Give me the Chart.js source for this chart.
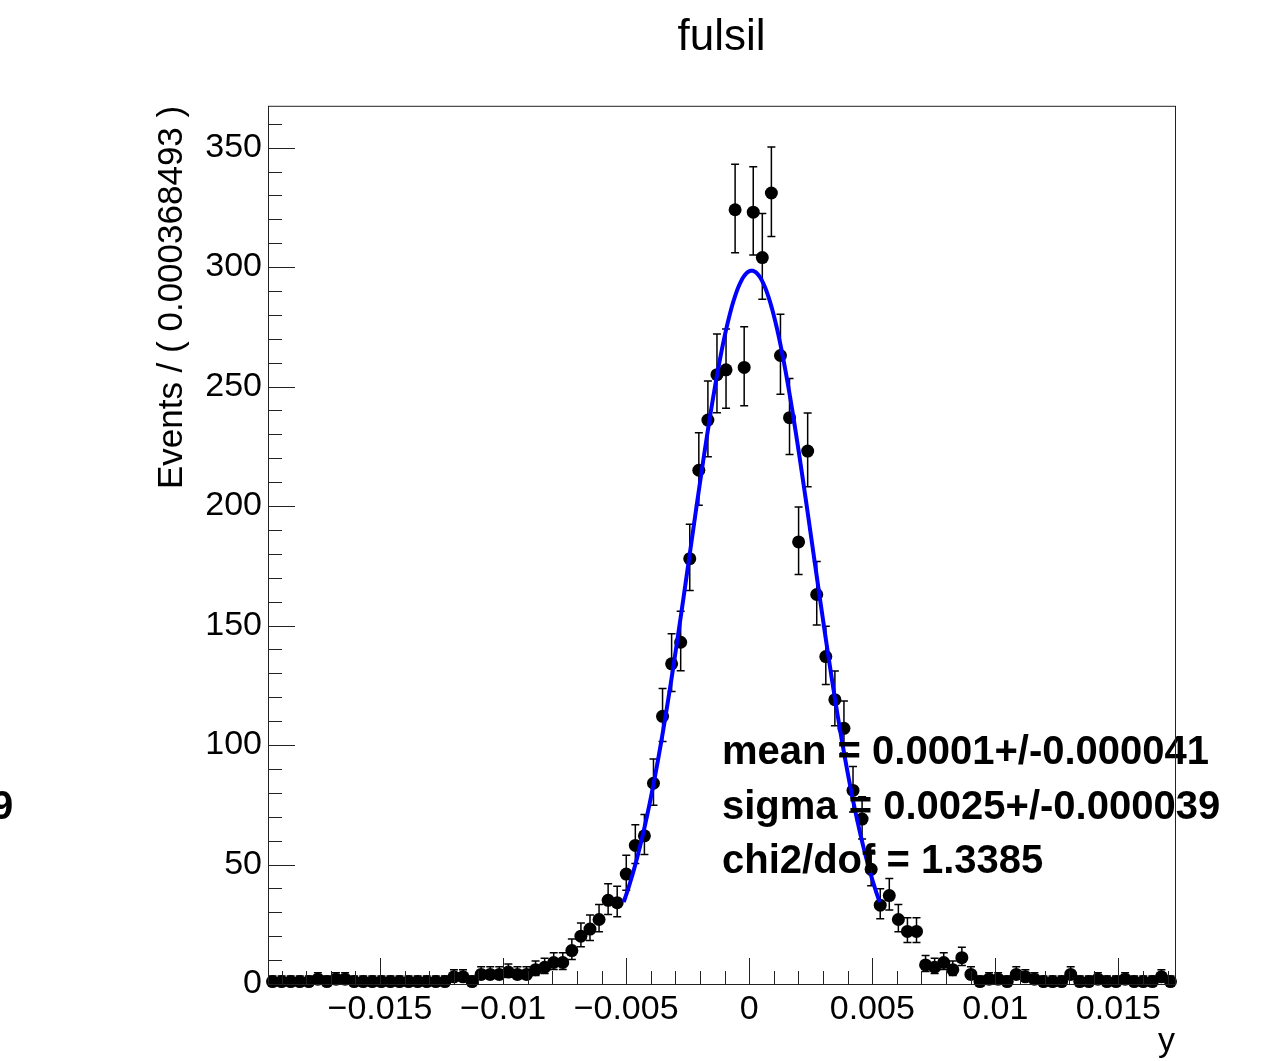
<!DOCTYPE html>
<html>
<head>
<meta charset="utf-8">
<title>fulsil</title>
<script src="https://cdn.jsdelivr.net/npm/chart.js@4.4.1/dist/chart.umd.min.js"></script>
<style>
  html, body { margin: 0; padding: 0; background: #fff; }
  #wrap { width: 1272px; height: 1061px; }
</style>
</head>
<body>
<div id="wrap"><canvas id="fit" width="1272" height="1061"></canvas></div>
<script>
// binning of the frame
const xMin = -0.01955;
const binWidth = 0.000368493;
const nBins = 100;
const xMax = xMin + nBins * binWidth;
const yMax = 367.5;

// events per bin, left to right
const counts = [
    1, 1, 1, 1, 1, 2, 1, 2, 2, 1,
    1, 1, 1, 1, 1, 1, 1, 1, 1, 1,
    3, 3, 1, 4, 4, 4, 5, 4, 4, 6,
    7, 9, 9, 14, 20, 23, 27, 35, 34, 46,
    58, 62, 84, 112, 134, 143, 178, 215, 236, 255,
    257, 324, 258, 323, 304, 331, 263, 237, 185, 223,
    163, 137, 119, 107, 81, 69, 48, 33, 37, 27,
    22, 22, 8, 7, 9, 6, 11, 4, 1, 2,
    2, 1, 4, 3, 2, 1, 1, 1, 4, 1,
    1, 2, 1, 1, 2, 1, 1, 1, 3, 1
];

// gaussian fit result
const fitMean = 0.0001;
const fitSigma = 0.0025;
const fitPeak = 298.5;
const fitRange = [-0.0051, 0.0053];
const fitLines = ['mean = 0.0001+/-0.000041', 'sigma = 0.0025+/-0.000039', 'chi2/dof = 1.3385'];

// axis labels
const xTicks = [-0.015, -0.01, -0.005, 0, 0.005, 0.01, 0.015];
const yTicks = [0, 50, 100, 150, 200, 250, 300, 350];
const xMinorStep = 0.001;
const yMinorStep = 10;

const FONT = '"Liberation Sans", Arial, Helvetica, sans-serif';
Chart.defaults.font.family = FONT;
Chart.defaults.color = '#000';

const points = counts.map((n, i) => ({x: xMin + (i + 0.5) * binWidth, y: n}));

// fitted curve from the printed parameters
const curve = [];
for (let k = 0; k <= 240; k++) {
    const x = fitRange[0] + (fitRange[1] - fitRange[0]) * k / 240;
    curve.push({x: x, y: fitPeak * Math.exp(-0.5 * Math.pow((x - fitMean) / fitSigma, 2))});
}

// poisson interval (Gehrels approximation)
const errUp = (n) => 1 + Math.sqrt(n + 0.75);
const errLo = (n) => n > 0 ? Math.sqrt(n - 0.25) : 0;

const fmtTick = (v) => {
    const s = String(parseFloat(v.toFixed(6)));
    return s.replace('-', '\u2212');
};

const rootStyle = {
    id: 'rootStyle',
    beforeDatasetsDraw(chart) {
        //Error bars under the markers
        const {ctx, scales: {x, y}} = chart;
        ctx.save();
        ctx.strokeStyle = '#000';
        ctx.lineWidth = 1.5;
        points.forEach((p) => {
            const px = x.getPixelForValue(p.x);
            const top = y.getPixelForValue(p.y + errUp(p.y));
            const bot = y.getPixelForValue(Math.max(p.y - errLo(p.y), 0));
            ctx.beginPath();
            ctx.moveTo(px, top); ctx.lineTo(px, bot);
            ctx.moveTo(px - 4, top); ctx.lineTo(px + 4, top);
            if (p.y > 0) { ctx.moveTo(px - 4, bot); ctx.lineTo(px + 4, bot); }
            ctx.stroke();
        });
        ctx.restore();
    },
    afterDatasetsDraw(chart) {
        //Fit result text
        const ctx = chart.ctx;
        ctx.save();
        ctx.fillStyle = '#000';
        ctx.font = 'bold 40px ' + FONT;
        ctx.textBaseline = 'alphabetic';
        fitLines.forEach((t, i) => ctx.fillText(t, 722, 764 + i * 54.5));
        // leftover text of the neighbour pad
        ctx.fillText('9', -9, 819);
        ctx.restore();
    },
    afterDraw(chart) {
        //Frame and inner ticks
        const {ctx, chartArea: a, scales: {x, y}} = chart;
        ctx.save();
        ctx.strokeStyle = '#222';
        ctx.lineWidth = 1;
        ctx.strokeRect(a.left + 0.5, a.top + 0.5, a.right - a.left, a.bottom - a.top);
        ctx.beginPath();
        for (let k = Math.ceil(xMin / xMinorStep); k * xMinorStep <= xMax; k++) {
            const v = k * xMinorStep;
            const major = xTicks.some((t) => Math.abs(t - v) < 1e-9);
            const px = Math.round(x.getPixelForValue(v)) + 0.5;
            ctx.moveTo(px, a.bottom);
            ctx.lineTo(px, a.bottom - (major ? 26 : 13));
        }
        for (let v = 0; v <= yMax; v += yMinorStep) {
            const major = yTicks.includes(v);
            const py = Math.round(y.getPixelForValue(v)) + 0.5;
            ctx.moveTo(a.left, py);
            ctx.lineTo(a.left + (major ? 27 : 14), py);
        }
        ctx.stroke();
        ctx.restore();
    }
};

new Chart(document.getElementById('fit'), {
    type: 'scatter',
    data: {
        datasets: [{
            type: 'line',
            data: curve,
            borderColor: '#0000ff',
            borderWidth: 4,
            pointRadius: 0,
            tension: 0,
            order: 0
        }, {
            data: points,
            backgroundColor: '#000',
            borderWidth: 0,
            pointRadius: 6.5,
            clip: false,
            order: 1
        }]
    },
    options: {
        responsive: false,
        animation: false,
        events: [],
        layout: {padding: {left: 147, right: 97, top: 0, bottom: 0}},
        plugins: {
            legend: {display: false},
            tooltip: {enabled: false},
            title: {
                display: true,
                text: 'fulsil',
                fullSize: false,
                color: '#000',
                font: {size: 44, weight: 'normal', lineHeight: 1.2},
                padding: {top: 11, bottom: 42}
            }
        },
        scales: {
            x: {
                type: 'linear',
                min: xMin,
                max: xMax,
                grid: {display: false, drawTicks: false},
                border: {display: false},
                afterBuildTicks: (s) => { s.ticks = xTicks.map((v) => ({value: v})); },
                afterFit: (s) => { s.height = 77; },
                ticks: {
                    font: {size: 34},
                    padding: 5,
                    maxRotation: 0,
                    autoSkip: false,
                    callback: (v) => fmtTick(v)
                },
                title: {
                    display: true,
                    text: 'y',
                    align: 'end',
                    font: {size: 34, lineHeight: 1},
                    padding: {top: 0, bottom: 2}
                }
            },
            y: {
                type: 'linear',
                min: 0,
                max: yMax,
                grid: {display: false, drawTicks: false},
                border: {display: false},
                afterBuildTicks: (s) => { s.ticks = yTicks.map((v) => ({value: v})); },
                afterFit: (s) => { s.width = 121; },
                ticks: {
                    font: {size: 34},
                    padding: 6,
                    autoSkip: false,
                    callback: (v) => fmtTick(v)
                },
                title: {
                    display: true,
                    text: 'Events / ( 0.000368493 )',
                    align: 'end',
                    font: {size: 35, lineHeight: 1.2},
                    padding: {top: 4, bottom: 0}
                }
            }
        }
    },
    plugins: [rootStyle]
});
</script>
</body>
</html>
